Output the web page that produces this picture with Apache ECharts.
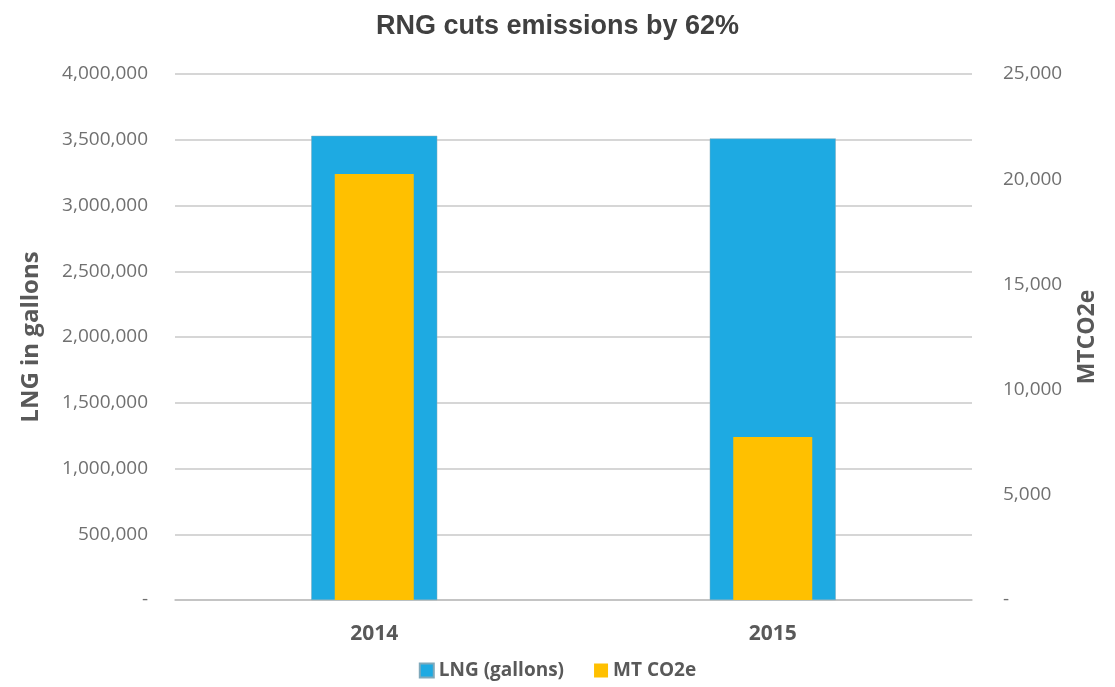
<!DOCTYPE html>
<html><head><meta charset="utf-8">
<script src="https://cdn.jsdelivr.net/npm/echarts@6/dist/echarts.min.js"></script>
<style>html,body{margin:0;padding:0;background:#fff}#c{width:1115px;height:687px}</style>
</head><body><div id="c"></div>
<script>
const categories = ['2014', '2015'];
const lngGallons = [3530000, 3510000];
const mtCO2e = [20250, 7750];
const seriesNames = ['LNG (gallons)', 'MT CO2e'];
const titleText = 'RNG cuts emissions by 62%';
const leftAxisName = 'LNG in gallons';
const rightAxisName = 'MTCO2e';

function fmt(v){ return v === 0 ? '-' : v.toLocaleString('en-US'); }
const font = '"Open Sans", Lato, sans-serif';
const chart = echarts.init(document.getElementById('c'));
chart.setOption({
  animation: false,
  title: { text: titleText, left: 'center', top: 8,
    textStyle: { fontFamily: 'Liberation Sans, Arial, sans-serif', fontWeight: 'bold', fontSize: 27, color: '#404040' } },
  grid: { left: 175, right: 143, top: 74, bottom: 87 },
  legend: { bottom: 2, left: 'center', itemWidth: 14, itemHeight: 14, itemGap: 30,
    icon: 'rect',
    textStyle: { fontFamily: font, fontSize: 19, fontWeight: 'bold', color: '#595959' } },
  xAxis: [
    { type: 'category', data: categories, axisTick: { show: false },
      axisLine: { show: true, lineStyle: { color: '#bfbfbf', width: 1.5 } },
      axisLabel: { margin: 24, fontFamily: font, fontWeight: 'bold', fontSize: 21, color: '#595959' } },
    { type: 'category', data: categories, show: false }
  ],
  yAxis: [
    { type: 'value', min: 0, max: 4000000, interval: 500000,
      name: leftAxisName, nameLocation: 'middle', nameGap: 132, nameRotate: 90,
      nameTextStyle: { fontFamily: font, fontWeight: 'bold', fontSize: 24, color: '#595959' },
      axisLine: { show: false }, axisTick: { show: false },
      splitLine: { lineStyle: { color: '#c8c8c8', width: 1.5 } },
      axisLabel: { formatter: fmt, margin: 27, fontFamily: font, fontSize: 19, color: '#707070' } },
    { type: 'value', min: 0, max: 25000, interval: 5000, position: 'right',
      name: rightAxisName, nameLocation: 'middle', nameGap: 104, nameRotate: 90,
      nameTextStyle: { fontFamily: font, fontWeight: 'bold', fontSize: 23, color: '#595959' },
      axisLine: { show: false }, axisTick: { show: false }, splitLine: { show: false },
      axisLabel: { formatter: fmt, margin: 31, fontFamily: font, fontSize: 19, color: '#707070' } }
  ],
  series: [
    { name: seriesNames[0], type: 'bar', data: lngGallons, xAxisIndex: 0, yAxisIndex: 0,
      barWidth: 126, itemStyle: { color: '#1eaae2', borderColor: '#7fa9bb', borderWidth: 0.5 } },
    { name: seriesNames[1], type: 'bar', data: mtCO2e, xAxisIndex: 1, yAxisIndex: 1,
      barWidth: 79, itemStyle: { color: '#ffc000' } }
  ]
});
</script></body></html>
